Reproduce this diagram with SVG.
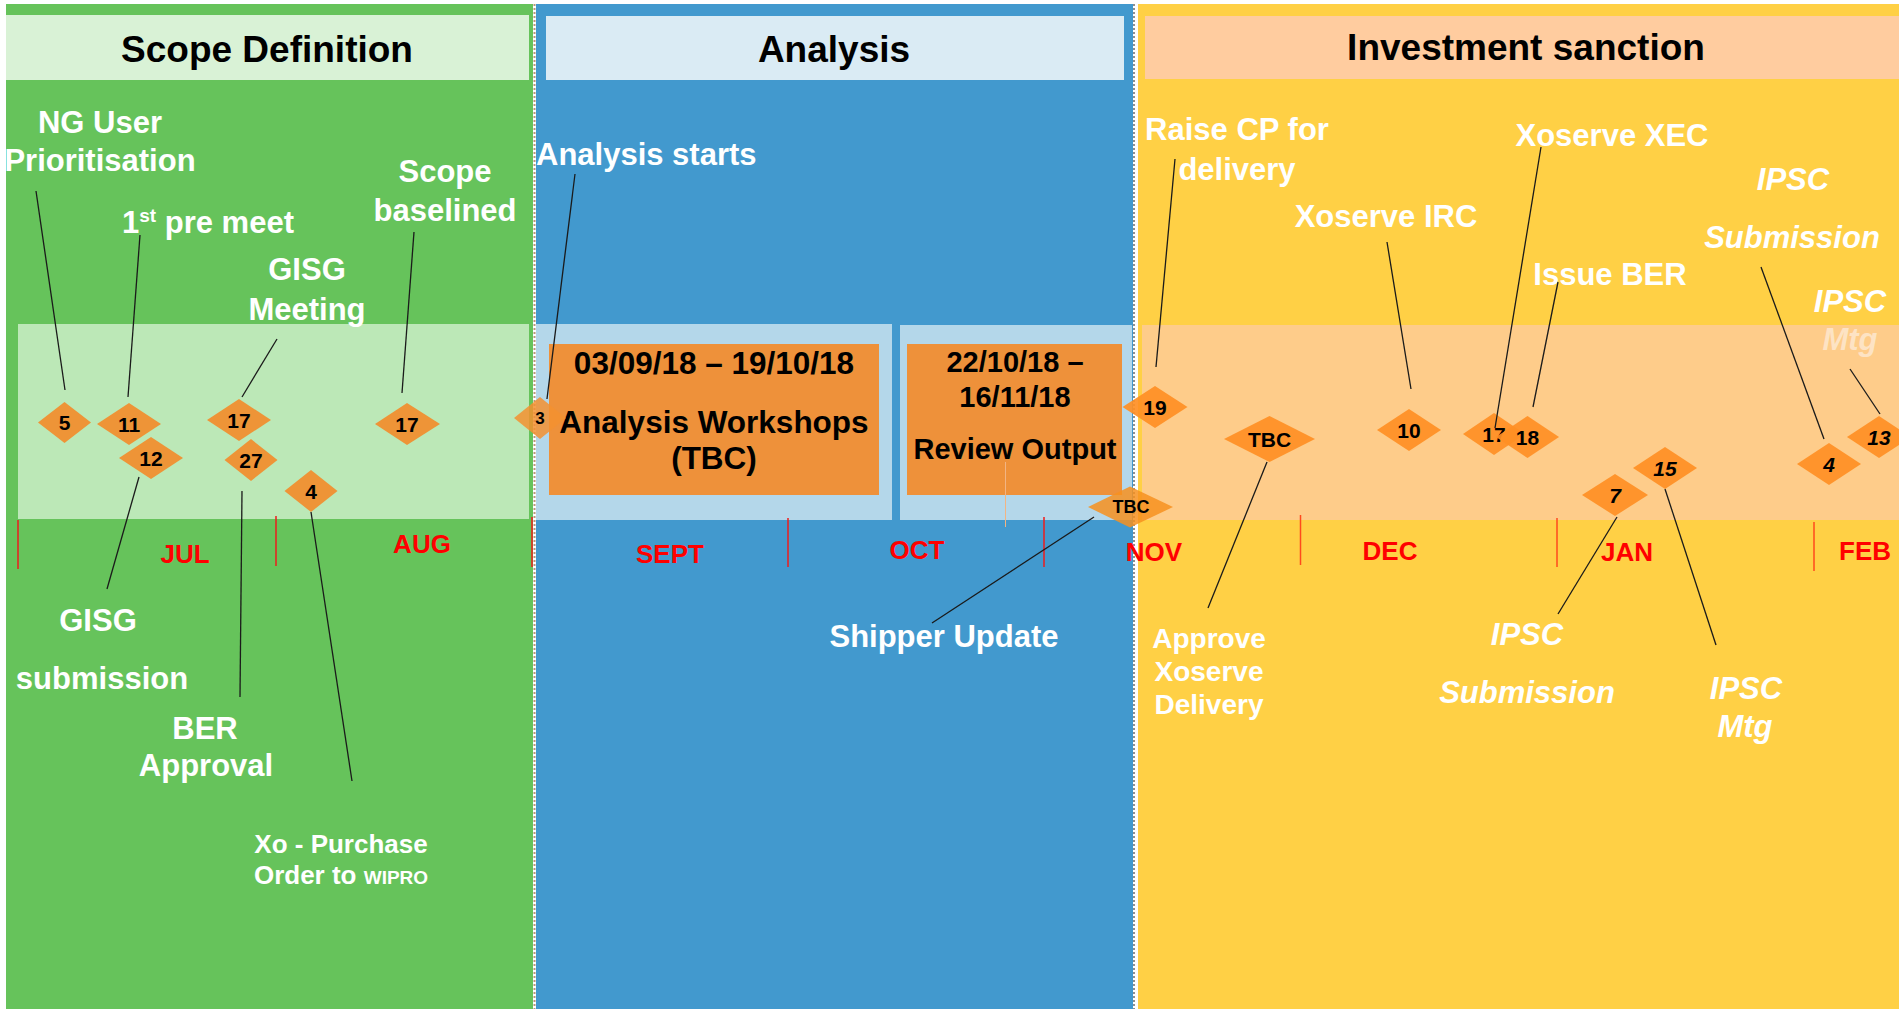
<svg xmlns="http://www.w3.org/2000/svg" width="1899" height="1009" viewBox="0 0 1899 1009">
<style>
.lbl{font-family:"Liberation Sans",Arial,sans-serif;font-weight:bold;fill:#ffffff;font-size:31px;text-anchor:middle}
.it{font-style:italic}
.hdr{font-family:"Liberation Sans",Arial,sans-serif;font-weight:bold;fill:#000;font-size:37px;text-anchor:middle}
.box{font-family:"Liberation Sans",Arial,sans-serif;font-weight:bold;fill:#000;text-anchor:middle}
.mon{font-family:"Liberation Sans",Arial,sans-serif;font-weight:bold;fill:#ff0000;font-size:26px;text-anchor:middle}
.num{font-family:"Liberation Sans",Arial,sans-serif;font-weight:bold;fill:#000;font-size:21px;text-anchor:middle}
.dg{fill:#EE9437}
.dy{fill:#FF8F24;fill-opacity:0.92}
.tick{stroke:#ee1c1c;stroke-width:1.5}
.ticky{stroke:#ff4a1c;stroke-width:1.5}
.con line{stroke:#1a1a1a;stroke-width:1.3}
</style>
<rect x="0" y="0" width="1899" height="1009" fill="#ffffff"/>
<g id="panels">
<rect x="6" y="4" width="527" height="1005" fill="#66C35B"/>
<rect x="536" y="4" width="597" height="1005" fill="#4299CE"/>
<rect x="1138" y="4" width="761" height="1005" fill="#FFD045"/>
<line x1="534.5" y1="4" x2="534.5" y2="1009" stroke="#b8977a" stroke-width="2" stroke-dasharray="2 2"/>
<line x1="1134" y1="4" x2="1134" y2="1009" stroke="#6b6b6b" stroke-width="1.5" stroke-dasharray="2 2"/>
<rect x="6" y="15" width="523" height="65" fill="#D9F2D6"/>
<rect x="546" y="16" width="578" height="64" fill="#DAEBF4"/>
<rect x="1145" y="16" width="754" height="63" fill="#FFCC9F"/>
<rect x="18" y="324" width="511" height="195" fill="#BCE8B7"/>
<rect x="536" y="324" width="356" height="196" fill="#B4D7EA"/>
<rect x="900" y="325" width="232" height="195" fill="#B4D7EA"/>
<rect x="1142" y="325" width="757" height="195" fill="#FECC8A"/>
</g>
<g id="headers">
<text class="hdr" x="267" y="62">Scope Definition</text>
<text class="hdr" x="834" y="62">Analysis</text>
<text class="hdr" x="1526" y="60">Investment sanction</text>
</g>
<g id="workshops">
<rect x="549" y="344" width="330" height="151" fill="#EE913A"/>
<text class="box" x="714" y="374" font-size="31.5">03/09/18 – 19/10/18</text>
<text class="box" x="714" y="433" font-size="31.5">Analysis Workshops</text>
<text class="box" x="714" y="469" font-size="31.5">(TBC)</text>
</g>
<g id="review">
<rect x="907" y="344" width="215" height="151" fill="#EE913A"/>
<text class="box" x="1015" y="372" font-size="29">22/10/18 –</text>
<text class="box" x="1015" y="407" font-size="29">16/11/18</text>
<text class="box" x="1015" y="459" font-size="29">Review Output</text>
<line x1="1005.5" y1="462" x2="1005.5" y2="527" stroke="#F2B483" stroke-width="1"/>
</g>
<g id="months">
<line class="tick" x1="18" y1="520" x2="18" y2="569"/>
<line class="tick" x1="276" y1="516" x2="276" y2="566"/>
<line class="tick" x1="532" y1="517" x2="532" y2="567"/>
<line class="tick" x1="788" y1="518" x2="788" y2="567"/>
<line class="tick" x1="1044" y1="517" x2="1044" y2="567"/>
<line class="ticky" x1="1300.5" y1="515" x2="1300.5" y2="565"/>
<line class="ticky" x1="1557" y1="518" x2="1557" y2="567"/>
<line class="ticky" x1="1814" y1="522" x2="1814" y2="571"/>
<text class="mon" x="185" y="563">JUL</text>
<text class="mon" x="422" y="553">AUG</text>
<text class="mon" x="670" y="563">SEPT</text>
<text class="mon" x="917" y="559">OCT</text>
<text class="mon" x="1154" y="561">NOV</text>
<text class="mon" x="1390" y="560">DEC</text>
<text class="mon" x="1627" y="561">JAN</text>
<text class="mon" x="1865" y="560">FEB</text>
</g>
<g id="labels">
<text class="lbl" x="100" y="133">NG User</text>
<text class="lbl" x="100" y="171">Prioritisation</text>
<text class="lbl" x="122" y="233" style="text-anchor:start">1<tspan font-size="19" dy="-11">st</tspan><tspan dy="11"> pre meet</tspan></text>
<text class="lbl" x="307" y="280">GISG</text>
<text class="lbl" x="307" y="320">Meeting</text>
<text class="lbl" x="445" y="182">Scope</text>
<text class="lbl" x="445" y="221">baselined</text>
<text class="lbl" x="98" y="631">GISG</text>
<text class="lbl" x="102" y="689">submission</text>
<text class="lbl" x="205" y="739">BER</text>
<text class="lbl" x="206" y="776">Approval</text>
<text class="lbl" x="341" y="853" style="font-size:26px">Xo - Purchase</text>
<text class="lbl" x="341" y="884" style="font-size:26px">Order to <tspan style="font-size:19px">WIPRO</tspan></text>
<text class="lbl" x="536" y="165" style="text-anchor:start">Analysis starts</text>
<text class="lbl" x="944" y="647">Shipper Update</text>
<text class="lbl" x="1237" y="140">Raise CP for</text>
<text class="lbl" x="1237" y="180">delivery</text>
<text class="lbl" x="1386" y="227">Xoserve IRC</text>
<text class="lbl" x="1612" y="146">Xoserve XEC</text>
<text class="lbl" x="1610" y="285">Issue BER</text>
<text class="lbl it" x="1793" y="190">IPSC</text>
<text class="lbl it" x="1792" y="248">Submission</text>
<text class="lbl it" x="1850" y="312">IPSC</text>
<text class="lbl it" x="1850" y="350" style="fill:#FDE3C4">Mtg</text>
<text class="lbl" x="1209" y="648" style="font-size:28px">Approve</text>
<text class="lbl" x="1209" y="681" style="font-size:28px">Xoserve</text>
<text class="lbl" x="1209" y="714" style="font-size:28px">Delivery</text>
<text class="lbl it" x="1527" y="645">IPSC</text>
<text class="lbl it" x="1527" y="703">Submission</text>
<text class="lbl it" x="1746" y="699">IPSC</text>
<text class="lbl it" x="1745" y="737">Mtg</text>
</g>
<g id="m-5"><polygon class="dg" points="38,422.5 64.5,402 91,422.5 64.5,443"/><text class="num" x="64.5" y="430">5</text></g>
<g id="m-11"><polygon class="dg" points="97,424 129,403 161,424 129,445"/><text class="num" x="129" y="431.5">11</text></g>
<g id="m-12"><polygon class="dg" points="119,458 151,437 183,458 151,479"/><text class="num" x="151" y="465.5">12</text></g>
<g id="m-17a"><polygon class="dg" points="207,420 239,399 271,420 239,441"/><text class="num" x="239" y="427.5">17</text></g>
<g id="m-27"><polygon class="dg" points="224.5,460 251,439 277.5,460 251,481"/><text class="num" x="251" y="467.5">27</text></g>
<g id="m-4a"><polygon class="dg" points="284.5,491 311,470 337.5,491 311,512"/><text class="num" x="311" y="498.5">4</text></g>
<g id="m-17b"><polygon class="dg" points="375,424 407,403 440,424 407,445"/><text class="num" x="407" y="431.5">17</text></g>
<g id="m-3"><polygon points="514,418 540,397 566,418 540,439" fill="#F39030" fill-opacity="0.85"/><text class="num" x="540" y="424" style="font-size:17px">3</text></g>
<g id="m-tbc1"><polygon points="1088,507 1130,486.5 1173,507 1130,527.5" fill="#F7901F" fill-opacity="0.85"/><text class="num" x="1131" y="513" style="font-size:18px">TBC</text></g>
<g id="m-19"><polygon class="dy" points="1122.5,407 1155,386 1187.5,407 1155,428"/><text class="num" x="1155" y="414.5">19</text></g>
<g id="m-tbc2"><polygon class="dy" points="1224,439 1269.5,416 1315,439 1269.5,462"/><text class="num" x="1269.5" y="446.5">TBC</text></g>
<g id="m-10"><polygon class="dy" points="1377,430 1409,409 1441,430 1409,451"/><text class="num" x="1409" y="437.5">10</text></g>
<g id="m-17c"><polygon class="dy" points="1463,434 1494,413 1525,434 1494,455"/><text class="num" x="1494" y="441.5">17</text></g>
<g id="m-18"><polygon class="dy" points="1496,437 1527.5,416 1559,437 1527.5,458"/><text class="num" x="1527.5" y="444.5">18</text></g>
<g id="m-7"><polygon class="dy" points="1582,495 1615,474 1648,495 1615,516"/><text class="num it" x="1615" y="502.5">7</text></g>
<g id="m-15"><polygon class="dy" points="1633,468 1665,447 1697,468 1665,489"/><text class="num it" x="1665" y="475.5">15</text></g>
<g id="m-4b"><polygon class="dy" points="1797,464 1829,443 1861,464 1829,485"/><text class="num it" x="1829" y="471.5">4</text></g>
<g id="m-13"><polygon class="dy" points="1847,437 1879,416 1911,437 1879,458"/><text class="num it" x="1879" y="444.5">13</text></g>
<g id="connectors" class="con">
<line x1="36" y1="191" x2="65" y2="390"/>
<line x1="140" y1="235" x2="128" y2="397"/>
<line x1="277" y1="339" x2="242" y2="397"/>
<line x1="414" y1="232" x2="402" y2="393"/>
<line x1="139" y1="477" x2="107" y2="589"/>
<line x1="242" y1="491" x2="240" y2="697"/>
<line x1="311" y1="512" x2="352" y2="781"/>
<line x1="575" y1="174" x2="547" y2="399"/>
<line x1="1094" y1="517" x2="932" y2="623"/>
<line x1="1175" y1="159" x2="1156" y2="367"/>
<line x1="1387" y1="242" x2="1411" y2="389"/>
<line x1="1541" y1="147" x2="1495" y2="428"/>
<line x1="1558" y1="282" x2="1533" y2="407"/>
<line x1="1761" y1="267" x2="1824" y2="439"/>
<line x1="1850" y1="369" x2="1880" y2="414"/>
<line x1="1267" y1="462" x2="1208" y2="608"/>
<line x1="1617" y1="517" x2="1558" y2="614"/>
<line x1="1665" y1="489" x2="1716" y2="645"/>
</g>
</svg>
